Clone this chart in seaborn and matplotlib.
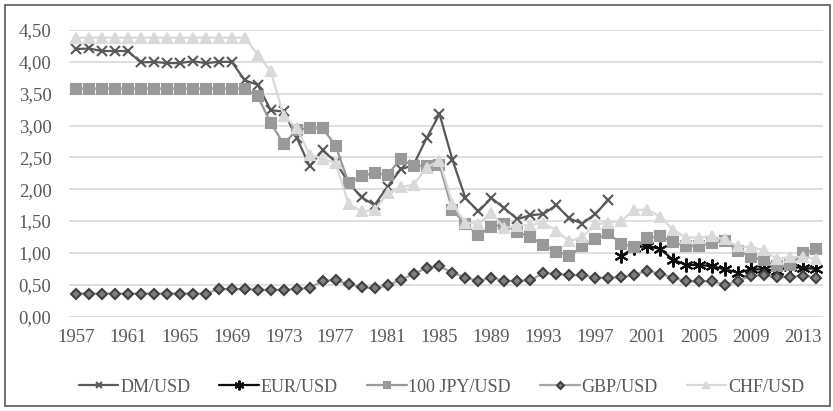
import matplotlib
matplotlib.use("Agg")
import matplotlib.pyplot as plt
import seaborn as sns
import numpy as np
from matplotlib.ticker import FuncFormatter, MultipleLocator
from matplotlib.patches import Rectangle

years = list(range(1957, 2015))

dm_usd = [4.20, 4.21, 4.17, 4.17, 4.17, 3.99, 4.00, 3.98, 3.98, 4.01, 3.98, 4.00, 4.00,
          3.71, 3.64, 3.24, 3.22, 2.81, 2.36, 2.61, 2.43, 2.10, 1.87, 1.75, 2.04,
          2.31, 2.38, 2.80, 3.18, 2.46, 1.86, 1.65, 1.86, 1.70, 1.53, 1.59, 1.61,
          1.75, 1.54, 1.46, 1.61, 1.83]
eur_usd = [0.95, 1.08, 1.11, 1.06, 0.89, 0.81, 0.81, 0.79, 0.74, 0.69, 0.74, 0.74,
           0.72, 0.78, 0.76, 0.75]
jpy_usd = [3.58] * 14 + [3.46, 3.04, 2.71, 2.93, 2.96, 2.96, 2.68, 2.10, 2.20, 2.26, 2.22,
           2.48, 2.36, 2.37, 2.38, 1.67, 1.45, 1.28, 1.41, 1.45, 1.33, 1.25, 1.12,
           1.02, 0.95, 1.10, 1.21, 1.31, 1.14, 1.09, 1.23, 1.26, 1.17, 1.10, 1.11,
           1.16, 1.19, 1.03, 0.94, 0.88, 0.79, 0.81, 0.99, 1.06]
gbp_usd = [0.36] * 11 + [0.43, 0.43, 0.43, 0.42, 0.42, 0.42, 0.43, 0.45, 0.56, 0.57,
           0.51, 0.46, 0.44, 0.49, 0.57, 0.67, 0.76, 0.79, 0.69, 0.61, 0.56, 0.61,
           0.56, 0.56, 0.57, 0.68, 0.67, 0.65, 0.65, 0.61, 0.61, 0.62, 0.65, 0.72,
           0.67, 0.61, 0.55, 0.55, 0.55, 0.50, 0.56, 0.64, 0.65, 0.62, 0.62, 0.64, 0.61]
chf_usd = [4.38] * 14 + [4.11, 3.85, 3.15, 2.96, 2.54, 2.48, 2.41, 1.77, 1.65, 1.67, 1.94,
           2.03, 2.07, 2.34, 2.45, 1.77, 1.47, 1.46, 1.62, 1.39, 1.42, 1.44, 1.47,
           1.35, 1.18, 1.25, 1.45, 1.47, 1.50, 1.67, 1.68, 1.57, 1.36, 1.24, 1.24,
           1.26, 1.21, 1.10, 1.09, 1.04, 0.90, 0.94, 0.93, 0.91]

series = [
    ("DM/USD", years[:len(dm_usd)], dm_usd, "#595959", "x", 7, None),
    ("EUR/USD", years[-len(eur_usd):], eur_usd, "#0d0d0d", (6, 2, 0), 10, None),
    ("100 JPY/USD", years, jpy_usd, "#999999", "s", 7, "#999999"),
    ("GBP/USD", years, gbp_usd, "#a6a6a6", "D", 5, "#7f7f7f"),
    ("CHF/USD", years, chf_usd, "#d9d9d9", "^", 7, "#d9d9d9"),
]

sns.set_style("white")
plt.rcParams['font.family'] = ['Liberation Serif', 'DejaVu Serif']

fig = plt.figure(figsize=(8.33, 4.11), dpi=100)
ax = fig.add_axes([0.0834, 0.2299, 0.9040, 0.6971])

for i, (name, x, y, color, marker, ms, face) in enumerate(series):
    edge = "#404040" if name == "GBP/USD" else color
    sns.lineplot(x=x, y=y, ax=ax, color=color, marker=marker, markersize=ms,
                 markeredgecolor=edge, markerfacecolor=face or color, markeredgewidth=1.5,
                 linewidth=1.6, label=name, zorder=3 + i)

ax.set_xlim(1956.5, 2014.5)
ax.set_ylim(0, 4.5)
ax.set_xticks(range(1957, 2015, 4))
ax.yaxis.set_major_locator(MultipleLocator(0.5))
ax.yaxis.set_major_formatter(FuncFormatter(lambda v, p: f"{v:.2f}".replace(".", ",")))
ax.grid(axis="y", color="#d9d9d9", linewidth=1.2)
ax.grid(axis="x", visible=False)
for s in ax.spines.values():
    s.set_visible(False)
ax.tick_params(axis="both", length=0, labelsize=13.5, colors="#595959")
ax.tick_params(axis="y", pad=13)
ax.tick_params(axis="x", pad=9)
ax.set_xlabel("")
ax.set_ylabel("")

leg = ax.legend(loc="center", bbox_to_anchor=(0.53, 0.058), bbox_transform=fig.transFigure,
                ncol=5, frameon=False, fontsize=13, handlelength=2.2, columnspacing=1.6,
                handletextpad=0.1, markerscale=0.7)
for t in leg.get_texts():
    t.set_color("#595959")

fig.patches.append(Rectangle((0.006, 0.012), 0.99, 0.975, transform=fig.transFigure,
                             fill=False, edgecolor="#595959", linewidth=1.2))

fig.savefig("out.png", dpi=100)
